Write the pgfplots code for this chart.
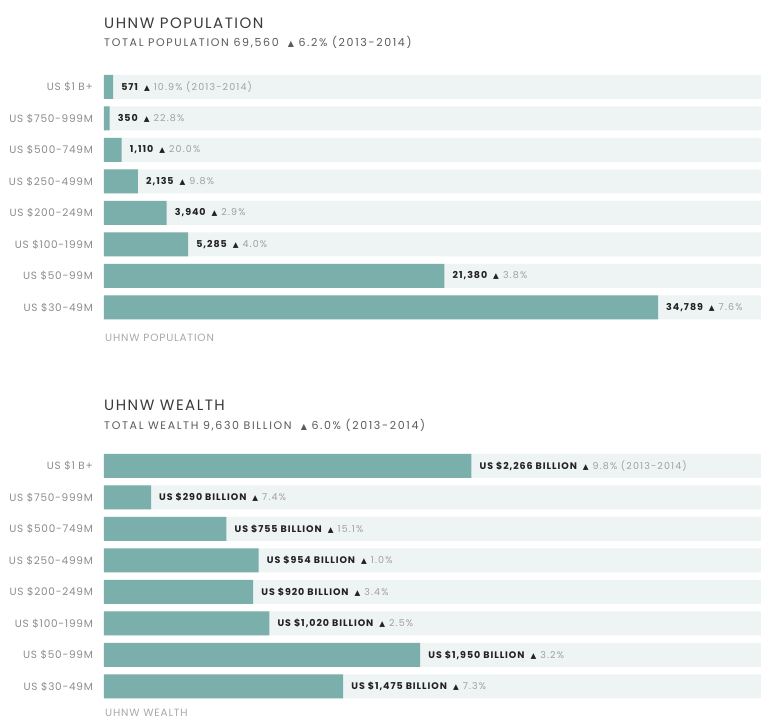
\documentclass[border=0pt]{standalone}
\usepackage{pgfplots}
\pgfplotsset{compat=1.18}
\usepackage{fontspec}
\setmainfont{Poppins}
\newfontfamily\sym{DejaVu Sans}
\definecolor{barc}{HTML}{7BAFAB}
\definecolor{bgc}{HTML}{EEF3F4}
\definecolor{titc}{HTML}{3A3A3A}
\definecolor{subc}{HTML}{5A5A5A}
\definecolor{catc}{HTML}{8C8C8C}
\definecolor{valc}{HTML}{222222}
\definecolor{pctc}{HTML}{A0A0A0}
\definecolor{xlc}{HTML}{A8A8A8}
\newcommand{\ft}[2]{\fontsize{#1}{#1}\selectfont\addfontfeatures{LetterSpace=#2}}
\newcommand{\lab}[2]{{\fontsize{9.5}{10}\bfseries\selectfont\addfontfeatures{LetterSpace=10}\color{valc}#1}\hspace{6pt}{\fontsize{7.5}{8}\selectfont\color{valc}\sym ▲}\hspace{4pt}{\ft{9.5}{12}\color{pctc}#2}}
\pgfplotsset{
  panel/.style={
    anchor=north west, scale only axis, width=657pt, height=252pt,
    xmin=0, ymin=-0.5, ymax=7.5, y dir=reverse,
    xbar, bar width=24pt, bar shift=0pt,
    axis line style={draw=none}, xtick=\empty, ytick={0,...,7},
    yticklabels={US \$1 B+, US \$750-999M, US \$500-749M, US \$250-499M, US \$200-249M, US \$100-199M, US \$50-99M, US \$30-49M},
    major tick length=0pt,
    yticklabel style={font=\ft{10.5}{7}, color=catc, anchor=east, inner sep=0pt, xshift=-11pt},
    clip=false, enlargelimits=false,
  },
  vals/.style={fill=barc, draw=none, point meta=explicit symbolic,
    nodes near coords, nodes near coords style={anchor=west, inner sep=0pt, xshift=8pt}},
  bg/.style={fill=bgc, draw=none},
}
\begin{document}
\begin{tikzpicture}
\useasboundingbox (0,0) rectangle (761pt,-719pt);
\node[anchor=base west, inner sep=0pt, font=\ft{15}{10}, text=titc] at (104pt,-29pt) {UHNW POPULATION};
\node[anchor=base west, inner sep=0pt, font=\ft{11}{15}, text=subc] at (104pt,-47pt) {TOTAL POPULATION 69,560 \ {\sym\fontsize{8}{8}\selectfont ▲} 6.2\% (2013-2014)};
\begin{axis}[panel, at={(104pt,-71.25pt)}, xmax=41256]
\addplot[bg] coordinates {(41256,0) (41256,1) (41256,2) (41256,3) (41256,4) (41256,5) (41256,6) (41256,7)};
\addplot[vals] coordinates {
(571,0) [{\lab{571}{10.9\% (2013-2014)}}]
(350,1) [{\lab{350}{22.8\%}}]
(1110,2) [{\lab{1,110}{20.0\%}}]
(2135,3) [{\lab{2,135}{9.8\%}}]
(3940,4) [{\lab{3,940}{2.9\%}}]
(5285,5) [{\lab{5,285}{4.0\%}}]
(21380,6) [{\lab{21,380}{3.8\%}}]
(34789,7) [{\lab{34,789}{7.6\%}}]
};
\end{axis}
\node[anchor=base west, inner sep=0pt, font=\ft{10.5}{8}, text=xlc] at (105pt,-342pt) {UHNW POPULATION};
\node[anchor=base west, inner sep=0pt, font=\ft{15}{10}, text=titc] at (104pt,-411pt) {UHNW WEALTH};
\node[anchor=base west, inner sep=0pt, font=\ft{11}{15}, text=subc] at (104pt,-430pt) {TOTAL WEALTH 9,630 BILLION \ {\sym\fontsize{8}{8}\selectfont ▲} 6.0\% (2013-2014)};
\begin{axis}[panel, at={(104pt,-450.2pt)}, xmax=4052]
\addplot[bg] coordinates {(4052,0) (4052,1) (4052,2) (4052,3) (4052,4) (4052,5) (4052,6) (4052,7)};
\addplot[vals] coordinates {
(2266,0) [{\lab{US \$2,266 BILLION}{9.8\% (2013-2014)}}]
(290,1) [{\lab{US \$290 BILLION}{7.4\%}}]
(755,2) [{\lab{US \$755 BILLION}{15.1\%}}]
(954,3) [{\lab{US \$954 BILLION}{1.0\%}}]
(920,4) [{\lab{US \$920 BILLION}{3.4\%}}]
(1020,5) [{\lab{US \$1,020 BILLION}{2.5\%}}]
(1950,6) [{\lab{US \$1,950 BILLION}{3.2\%}}]
(1475,7) [{\lab{US \$1,475 BILLION}{7.3\%}}]
};
\end{axis}
\node[anchor=base west, inner sep=0pt, font=\ft{10.5}{8}, text=xlc] at (105pt,-716.5pt) {UHNW WEALTH};
\end{tikzpicture}
\end{document}
